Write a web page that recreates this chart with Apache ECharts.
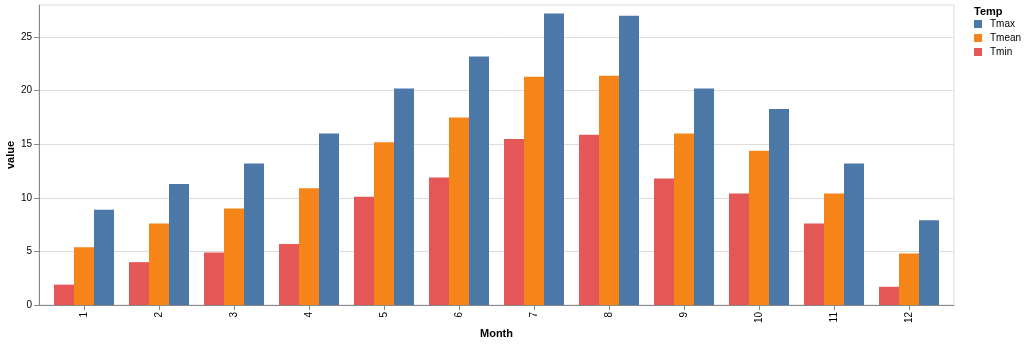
<!DOCTYPE html>
<html>
<head>
<meta charset="utf-8">
<script src="https://cdn.jsdelivr.net/npm/echarts@6/dist/echarts.min.js"></script>
<style>
html,body{margin:0;padding:0;background:#fff;}
#chart{width:1026px;height:344px;}
</style>
</head>
<body>
<div id="chart"></div>
<script>
const months = ['1','2','3','4','5','6','7','8','9','10','11','12'];
const tmin  = [1.9, 4.0, 4.9, 5.7, 10.1, 11.9, 15.5, 15.9, 11.8, 10.4, 7.6, 1.7];
const tmean = [5.4, 7.6, 9.0, 10.9, 15.2, 17.5, 21.3, 21.4, 16.0, 14.4, 10.4, 4.8];
const tmax  = [8.9, 11.3, 13.2, 16.0, 20.2, 23.2, 27.2, 27.0, 20.2, 18.3, 13.2, 7.9];
const yTicks = [0, 5, 10, 15, 20, 25];
const legendOrder = ['Tmax', 'Tmean', 'Tmin'];

const FONT = '"Liberation Sans", Arial, Helvetica, sans-serif';
const chart = echarts.init(document.getElementById('chart'), null, {renderer: 'canvas'});

chart.setOption({
  animation: false,
  textStyle: {fontFamily: FONT},
  title: {
    text: 'Temp', left: 974, top: 6, padding: 0,
    textStyle: {fontSize: 11, fontWeight: 'bold', color: '#000', fontFamily: FONT}
  },
  legend: {
    data: legendOrder,
    orient: 'vertical', left: 974, top: 19, padding: 0,
    itemWidth: 8, itemHeight: 8, itemGap: 4, icon: 'rect',
    textStyle: {fontSize: 10, color: '#000', fontFamily: FONT, padding: [0, 0, 0, 3]}
  },
  grid: [
    {left: 39, top: 5, width: 915, height: 300, show: true, borderColor: '#ddd', borderWidth: 1, backgroundColor: 'transparent', outerBoundsMode: 'none', containLabel: false},
    {left: 46.5, top: 5, width: 900, height: 300, outerBoundsMode: 'none', containLabel: false}
  ],
  xAxis: [
    {
      type: 'value', gridIndex: 0, min: 0, max: 1,
      axisLine: {show: true, lineStyle: {color: '#888', width: 1}},
      axisTick: {show: false}, axisLabel: {show: false}, splitLine: {show: false}
    },
    {
      type: 'category', gridIndex: 1, data: months,
      axisLine: {show: false},
      axisTick: {show: true, alignWithLabel: true, length: 5, lineStyle: {color: '#888'}},
      axisLabel: {rotate: 90, margin: 7, fontSize: 10, color: '#000', fontFamily: FONT},
      name: 'Month', nameLocation: 'middle', nameGap: 23, nameMoveOverlap: false,
      nameTextStyle: {fontSize: 11, fontWeight: 'bold', color: '#000', fontFamily: FONT}
    }
  ],
  yAxis: [
    {
      type: 'value', gridIndex: 0, min: 0, max: 28, interval: 5,
      axisLine: {show: true, lineStyle: {color: '#888', width: 1}},
      axisTick: {show: true, length: 5, lineStyle: {color: '#888'}, customValues: yTicks},
      axisLabel: {fontSize: 10, color: '#000', margin: 7, fontFamily: FONT, customValues: yTicks},
      splitLine: {show: true, lineStyle: {color: '#ddd', width: 1}},
      name: 'value', nameLocation: 'middle', nameGap: 23, nameMoveOverlap: false,
      nameTextStyle: {fontSize: 11, fontWeight: 'bold', color: '#000', fontFamily: FONT}
    },
    {type: 'value', gridIndex: 1, min: 0, max: 28, show: false}
  ],
  series: [
    {name: 'Tmin', type: 'bar', xAxisIndex: 1, yAxisIndex: 1, data: tmin, barWidth: 20, barGap: '0%', itemStyle: {color: '#e45756'}},
    {name: 'Tmean', type: 'bar', xAxisIndex: 1, yAxisIndex: 1, data: tmean, barWidth: 20, barGap: '0%', itemStyle: {color: '#f58518'}},
    {name: 'Tmax', type: 'bar', xAxisIndex: 1, yAxisIndex: 1, data: tmax, barWidth: 20, barGap: '0%', itemStyle: {color: '#4c78a8'}}
  ]
});
</script>
</body>
</html>
